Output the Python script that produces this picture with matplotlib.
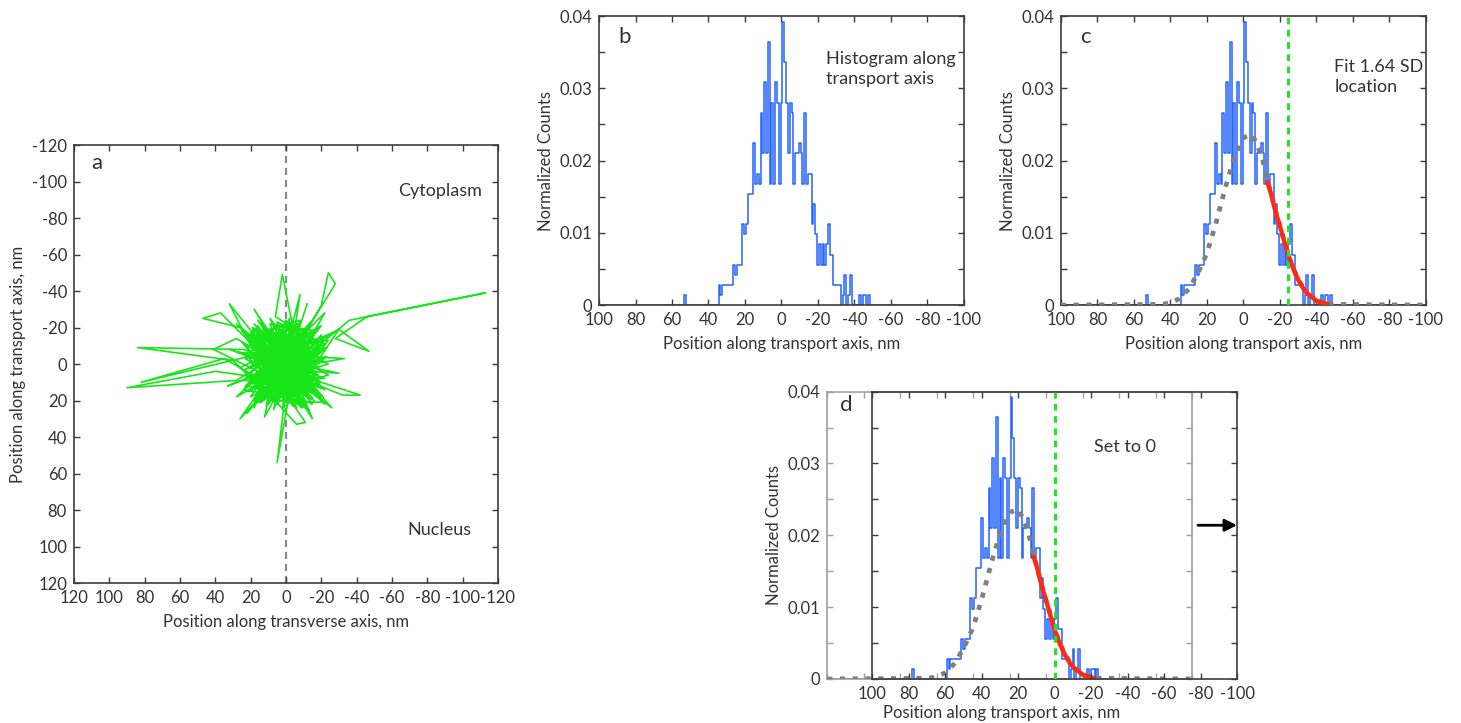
import numpy as np
import matplotlib.pyplot as plt
import pandas as pd

plt.rcParams['font.family'] = ['Lato', 'DejaVu Sans']
plt.rcParams['font.size'] = 12
plt.rcParams['axes.unicode_minus'] = False

TEXT = '#333333'
FRAME = '#3c3c3c'
BLUE = '#2463ff'
GREEN = '#19e619'
RED = '#ff2a10'
GRAY = '#808080'

# Trajectory: transverse / transport position, nm
track_x = [
    2, -12, 10, -5, 15, -16, 6, -8, 18, -3,
    12, -14, 4, -18, 22, -6, 8, -20, 14, 0,
    -10, 25, -4, 9, -22, 16, -2, 20, -15, 5,
    30, 84, 24, -8, 12, -17, 3, -11, 19, -6,
    10, -24, 7, -1, 23, -13, 15, -19, 2, -7,
    6, 2, -4, 11, -16, 17, -9, 8, -21, 13,
    -12, -36, -113, -46, -28, -47, -30, -10, 16, -3,
    21, -14, 0, 26, -18, 9, -5, 14, -22, 4,
    -2, 5, 1, -9, 18, -15, 7, -6, 12, -20,
    3, 40, 90, 28, -4, 82, 35, 6, -12, 15,
    -8, 19, -17, 1, 11, -13, 24, -3, 10, -18,
    8, 37, 47, 26, -1, 32, 20, -10, 5, -16,
    22, -6, 26, 13, -11, 10, -19, 4, 18, -2,
    -9, -32, -42, -20, 7, -14, 15, -24, 0, 12,
    -7, -20, -24, -28, -14, 6, -10, 17, -2, -17,
    9, -6, -11, -4, 14, -8, 20, -15, 3, -19,
    11, -5, 16, -12, 2, -21, 8, -7, 13, -1,
    41, 28, -3, 18, -16, 6, -9, 21, -14, 4,
    -20, 10, -4, 17, -11, 7, -18, 12, -1, 23,
    -6, 9, -15, 1, 19, -10, 14, -23, 5, -3,
    -18, 15, -7, 20, -13, 9, -19, 24, -2, 11,
    -16, 6, -21, 18, -9, 13, -4, 21, -17, 3,
    -12, 25, -6, 16, -20, 10, -14, 7, -1, 19,
    -23, 4, -10, 22, -5, 14, -19, 1, 17, -11,
    8, -15, 12, -22, 5, -3, 20, -16, 2, -8,
    15, -13, 9, -20, 23, -5, 11, -17, 6, -2,
    18, -10, 13, -24, 0, 16, -7, 21, -14, 8,
    -18, 4, -9, 24, -3, 12, -21, 7, -12, 19,
    -4, 10, -16, 14, -1, 22, -8, 5, -19, 17,
    -11, 3, -6, 20, -15, 9, -2, 15, -22, 6,
    0, 28, -3, -22, 5, -30, 2, 22, -1, -15,
    4, 33, -2, -8, 3, -26, 0, 18, -4, 32,
    1, -28, 6, 12, -3, -33, 2, 28, 0, -12]
track_y = [
    0, 8, -6, 14, 3, -4, 12, -15, 9, -2,
    -14, 12, -20, 2, 6, 18, -10, -8, 16, -24,
    6, -12, 20, 2, 14, -18, 9, -4, -16, 22,
    -2, -9, -8, 4, 18, -12, -6, 16, -20, -9,
    10, 0, -16, 15, 12, -20, -2, 9, 24, -18,
    -26, -49, -20, 5, 20, -9, 1, 19, -12, -13,
    -5, -24, -39, -26, -14, -7, -19, 10, 14, -13,
    -15, 3, 18, 2, -18, -22, 11, -7, 8, 4,
    16, 54, 22, -6, 20, 13, -12, 24, -3, -2,
    9, 4, 13, 9, -10, 10, -3, 13, -17, 8,
    17, -11, 5, -16, 23, -8, -6, 19, -19, 16,
    0, -28, -25, -20, 7, -33, -10, 14, -3, -10,
    15, -4, 30, 12, 22, -8, 18, -13, 24, -23,
    8, 17, 17, 10, 5, -22, 18, 6, -7, 14,
    -11, -32, -50, -44, -22, -4, 20, -16, 3, -6,
    17, 33, 32, 22, -12, 6, 1, -14, 15, 11,
    -5, -19, 10, 2, -11, 21, 20, -8, 3, 12,
    -8, -14, 5, -22, 15, -17, 23, 8, -3, 10,
    -16, 22, -14, 5, 11, -21, -1, 17, -5, -3,
    15, -9, 19, 1, 13, -12, 21, -9, -1, 8,
    -20, 21, -22, -17, 19, -25, 11, 9, -17, 16,
    -7, 21, -15, -1, 24, -20, 2, 15, -19, -9,
    18, -18, 7, -24, 13, 3, -23, 25, -11, 11,
    -4, 17, -19, -9, 21, -15, 3, -21, 19, -1,
    -6, 22, 10, -11, -23, 13, -12, 9, 20, -16,
    -4, 25, 14, -21, 3, -8, -17, 17, 6, -25,
    22, 9, -10, -13, 16, -21, 12, -7, -15, 11,
    6, -18, 20, 14, -12, 1, 18, -13, -6, -19,
    23, -2, -17, 16, 4, -14, -24, 19, -9, 7,
    14, -4, -20, 18, 0, -19, 10, -11, 22, -15,
    0, -22, 4, -28, -2, 5, 3, 27, -3, 30,
    1, 12, -1, -38, 2, 24, -4, -30, 5, -8,
    0, -18, -3, 29, 2, -3, -5, 18, 3, -33]

# Histogram along transport axis: 1 nm bins, raw counts
hist_pos = [53, 34, 33, 32, 31, 30, 29, 28, 27, 26, 25, 24, 23, 22, 21, 20, 19, 18,
            17, 16, 15, 14, 13, 12, 11, 10, 9, 8, 7, 6, 5, 4, 3, 2, 1, 0,
            -1, -2, -3, -4, -5, -6, -7, -8, -9, -10, -11, -12, -13, -14, -15, -16,
            -17, -18, -19, -20, -21, -22, -23, -24, -25, -26, -27, -28, -29, -30,
            -31, -32, -33, -34, -35, -36, -37, -38, -39, -40, -41, -42, -43, -44,
            -45, -46, -47, -48]
hist_counts = [1, 2, 1, 2, 2, 2, 2, 2, 2, 4, 3, 4, 4, 4, 8, 7, 8, 11,
               11, 11, 16, 12, 13, 12, 19, 15, 22, 15, 26, 12, 20, 12, 22, 20, 12, 20,
               28, 24, 20, 15, 20, 19, 12, 15, 15, 16, 15, 12, 19, 12, 13, 13,
               8, 10, 7, 4, 6, 4, 6, 4, 6, 8, 5, 5, 2, 2,
               2, 2, 0, 1, 3, 0, 1, 3, 0, 0, 0, 0, 1, 0,
               1, 1, 0, 1]
n_points = 714

# Gaussian fit read along the transport axis
fit_x = [100, 45, 40, 35, 30, 25, 20, 15, 10, 5, 0, -5, -10, -15, -20, -25,
         -30, -35, -40, -45, -50, -100]
fit_y = [0, 0.0001, 0.0003, 0.0009, 0.0022, 0.0044, 0.0072, 0.0114, 0.0162,
         0.0205, 0.0232, 0.0236, 0.0206, 0.0155, 0.0109, 0.0066, 0.0035, 0.0016,
         0.0006, 0.0002, 0.0001, 0]
# fitted tail beyond the peak
tail_x = [-12.8, -15, -17.5, -20, -22.5, -25, -27.5, -30, -32.5, -35, -40, -45, -47]
tail_y = [0.0173, 0.0155, 0.0130, 0.0109, 0.0087, 0.0066, 0.0049, 0.0035, 0.0024,
          0.0016, 0.0006, 0.0002, 0.0001]
sd_loc = -24.6  # 1.64 SD location

full_pos = np.arange(100, -101, -1)
hist_norm = pd.Series(hist_counts, index=hist_pos).reindex(full_pos, fill_value=0) / n_points


def style_axes(ax, frame=FRAME):
    for s in ax.spines.values():
        s.set_color(frame)
        s.set_linewidth(1.2)
    ax.tick_params(direction='in', top=True, right=True, length=4, width=1,
                   color=frame, labelcolor=TEXT, labelsize=12, pad=5)


def hist_axes(ax, frame=FRAME):
    ax.set_xlim(100, -100)
    ax.set_ylim(0, 0.04)
    ax.set_xticks(np.arange(100, -101, -20))
    ax.set_yticks(np.arange(0, 0.0401, 0.005))
    ax.set_yticklabels(['0', '', '0.01', '', '0.02', '', '0.03', '', '0.04'])
    style_axes(ax, frame)


def draw_hist(ax, with_fit):
    ax.step(full_pos, hist_norm.values, where='mid', color=BLUE, lw=1.1, zorder=2)
    if with_fit:
        ax.plot(fit_x, fit_y, color=GRAY, lw=3.4, ls=(0, (1.1, 1.6)), zorder=3)
        ax.plot(tail_x, tail_y, color=RED, lw=3.2, solid_capstyle='butt', zorder=4)


fig = plt.figure(figsize=(14.61, 7.23), dpi=100)

# a: trajectory
ax_a = fig.add_axes([0.0506, 0.1936, 0.2902, 0.6058])
ax_a.axvline(0, color='#8a8a8a', lw=1.6, ls=(0, (3.2, 2.2)), zorder=1)
ax_a.plot(track_x, track_y, color=GREEN, lw=1.2, zorder=2)
ax_a.set_xlim(120, -120)
ax_a.set_ylim(120, -120)
ax_a.set_xticks(np.arange(120, -121, -20))
ax_a.set_yticks(np.arange(-120, 121, 20))
style_axes(ax_a)
ax_a.set_xlabel('Position along transverse axis, nm', color=TEXT, labelpad=6)
ax_a.set_ylabel('Position along transport axis, nm', color=TEXT, labelpad=4)
ax_a.text(0.042, 0.96, 'a', transform=ax_a.transAxes, fontsize=16, color=TEXT,
          va='center', ha='left')
ax_a.text(-87, -95, 'Cytoplasm', ha='center', va='center', color=TEXT, fontsize=13)
ax_a.text(-87, 91, 'Nucleus', ha='center', va='center', color=TEXT, fontsize=13)

# b: histogram
ax_b = fig.add_axes([0.41, 0.578, 0.2498, 0.3997])
hist_axes(ax_b)
draw_hist(ax_b, False)
ax_b.set_xlabel('Position along transport axis, nm', color=TEXT, labelpad=6)
ax_b.set_ylabel('Normalized Counts', color=TEXT, labelpad=4)
ax_b.text(0.052, 0.927, 'b', transform=ax_b.transAxes, fontsize=16, color=TEXT,
          va='center')
ax_b.text(-24.4, 0.0327, 'Histogram along\ntransport axis', va='center', ha='left',
          color=TEXT, linespacing=1.35, fontsize=13)

# c: fit and 1.64 SD location
ax_c = fig.add_axes([0.7262, 0.578, 0.2498, 0.3997])
hist_axes(ax_c)
draw_hist(ax_c, True)
ax_c.axvline(sd_loc, color='#22e622', lw=2.2, ls=(0, (2.2, 1.8)), zorder=5)
ax_c.set_xlabel('Position along transport axis, nm', color=TEXT, labelpad=6)
ax_c.set_ylabel('Normalized Counts', color=TEXT, labelpad=4)
ax_c.text(0.052, 0.927, 'c', transform=ax_c.transAxes, fontsize=16, color=TEXT,
          va='center')
ax_c.text(-49.7, 0.0316, 'Fit 1.64 SD\nlocation', va='center', ha='left',
          color=TEXT, linespacing=1.35, fontsize=13)

# d: histogram shifted so the 1.64 SD location sits at 0
fix_left, d_width = 0.5969, 0.2498
shift_left = fix_left + sd_loc * d_width / 200
ax_d = fig.add_axes([shift_left, 0.0609, d_width, 0.3974])
hist_axes(ax_d, frame='#a0a0a0')
ax_d.tick_params(labelbottom=False, labelcolor=TEXT)
draw_hist(ax_d, True)
ax_d.set_ylabel('Normalized Counts', color=TEXT, labelpad=4)
ax_d.text(0.036, 0.955, 'd', transform=ax_d.transAxes, fontsize=16, color=TEXT,
          va='center')

ax_f = fig.add_axes([fix_left, 0.0609, d_width, 0.3974])
ax_f.patch.set_alpha(0)
hist_axes(ax_f)
ax_f.tick_params(labelleft=False)
ax_f.axvline(0, color='#22e622', lw=2.2, ls=(0, (2.2, 1.8)), zorder=5)
ax_f.text(-21.6, 0.0323, 'Set to 0', va='center', ha='left', color=TEXT, fontsize=13)
ax_f.annotate('', xy=(-100, 0.0214), xytext=(-78.6, 0.0214),
              arrowprops=dict(arrowstyle='-|>', color='black', lw=2,
                              mutation_scale=18, shrinkA=0, shrinkB=0))
ax_f.set_xlabel('Position along transport axis, nm', color=TEXT)
ax_f.xaxis.set_label_coords(0.356, -0.09)

fig.savefig('out.png', dpi=100)
